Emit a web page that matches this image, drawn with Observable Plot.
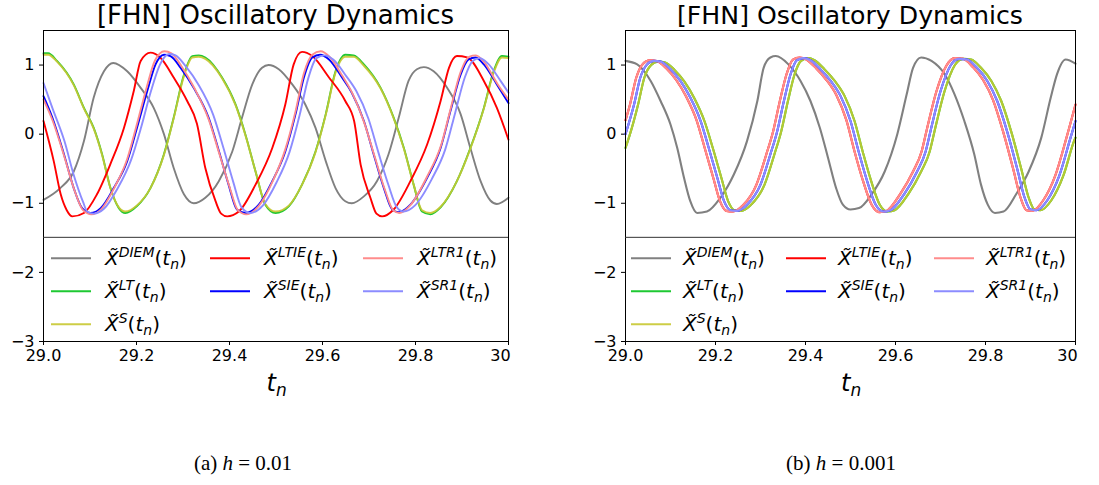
<!DOCTYPE html>
<html><head><meta charset="utf-8">
<script src="https://cdn.jsdelivr.net/npm/d3@7"></script>
<script src="https://cdn.jsdelivr.net/npm/@observablehq/plot@0.6"></script>
<style>
html,body{margin:0;padding:0;background:#fff;width:1099px;height:485px;overflow:hidden;font-family:"DejaVu Sans",sans-serif;}
.panel{position:absolute;top:0;height:410px;overflow:hidden;}
.cap{position:absolute;top:451px;font-family:"Liberation Serif","DejaVu Serif",serif;font-size:21px;color:#000;white-space:nowrap;transform:translateX(-50%);}
</style></head><body>
<div id="pa" class="panel" style="left:0px;width:515px"></div>
<div id="pb" class="panel" style="left:560px;width:522px"></div>
<div class="cap" style="left:243px">(a) <i>h</i> = 0.01</div>
<div class="cap" style="left:841px">(b) <i>h</i> = 0.001</div>
<script>
// ---------- axes ----------
const xTicks = [29.0, 29.2, 29.4, 29.6, 29.8, 30.0];
const xTickLabels = ["29.0", "29.2", "29.4", "29.6", "29.8", "30"];
const yTicks = [-3, -2, -1, 0, 1];
const titleText = "[FHN] Oscillatory Dynamics";

// ---------- panel (a): h = 0.01 ----------
const a_DIEM = [[29.000,-0.95],[29.036,-0.78],[29.065,-0.54],[29.087,-0.10],[29.108,0.53],[29.130,0.91],[29.150,1.03],[29.180,0.91],[29.209,0.67],[29.237,0.38],[29.259,0.00],[29.280,-0.49],[29.302,-0.87],[29.323,-1.00],[29.348,-0.92],[29.377,-0.68],[29.406,-0.25],[29.427,0.24],[29.449,0.72],[29.470,0.96],[29.484,1.00],[29.506,0.94],[29.535,0.72],[29.563,0.43],[29.585,0.09],[29.607,-0.39],[29.628,-0.78],[29.649,-0.97],[29.663,-1.00],[29.689,-0.90],[29.717,-0.68],[29.742,-0.29],[29.764,0.24],[29.785,0.77],[29.803,0.94],[29.818,0.97],[29.839,0.91],[29.868,0.67],[29.897,0.29],[29.918,-0.20],[29.940,-0.68],[29.961,-0.96],[29.975,-1.01],[30.000,-0.92]];
const a_LT = [[29.000,1.17],[29.010,1.17],[29.029,1.06],[29.065,0.72],[29.087,0.38],[29.108,0.09],[29.126,-0.29],[29.144,-0.78],[29.162,-1.07],[29.176,-1.14],[29.201,-1.04],[29.230,-0.78],[29.259,-0.29],[29.280,0.24],[29.302,0.86],[29.320,1.13],[29.334,1.14],[29.348,1.11],[29.384,0.82],[29.413,0.43],[29.434,0.00],[29.456,-0.54],[29.477,-1.02],[29.499,-1.14],[29.528,-1.04],[29.556,-0.73],[29.585,-0.25],[29.607,0.29],[29.628,0.91],[29.649,1.15],[29.667,1.14],[29.689,1.01],[29.725,0.67],[29.753,0.24],[29.775,-0.20],[29.796,-0.73],[29.814,-1.12],[29.832,-1.16],[29.854,-1.06],[29.889,-0.68],[29.918,-0.20],[29.947,0.38],[29.968,0.91],[29.986,1.13],[30.000,1.12]];
const a_S = [[29.000,1.15],[29.010,1.15],[29.029,1.05],[29.065,0.71],[29.087,0.37],[29.108,0.08],[29.126,-0.30],[29.144,-0.78],[29.162,-1.06],[29.176,-1.12],[29.201,-1.03],[29.230,-0.78],[29.259,-0.30],[29.280,0.23],[29.302,0.84],[29.320,1.11],[29.334,1.12],[29.348,1.09],[29.384,0.81],[29.413,0.42],[29.434,-0.01],[29.456,-0.54],[29.477,-1.01],[29.499,-1.12],[29.528,-1.03],[29.556,-0.73],[29.585,-0.26],[29.607,0.28],[29.628,0.89],[29.649,1.12],[29.667,1.12],[29.689,0.99],[29.725,0.66],[29.753,0.23],[29.775,-0.21],[29.796,-0.73],[29.814,-1.10],[29.832,-1.14],[29.854,-1.05],[29.889,-0.68],[29.918,-0.21],[29.947,0.37],[29.968,0.89],[29.986,1.11],[30.000,1.10]];
const a_LTIE = [[29.000,0.19],[29.022,-0.39],[29.037,-0.87],[29.050,-1.10],[29.062,-1.19],[29.087,-1.14],[29.115,-0.87],[29.144,-0.43],[29.173,0.09],[29.194,0.62],[29.209,1.06],[29.230,1.18],[29.251,1.11],[29.280,0.82],[29.309,0.48],[29.330,0.15],[29.348,-0.49],[29.370,-0.97],[29.382,-1.15],[29.395,-1.19],[29.420,-1.12],[29.456,-0.73],[29.492,-0.20],[29.520,0.43],[29.538,1.01],[29.556,1.19],[29.578,1.13],[29.614,0.82],[29.649,0.48],[29.668,0.19],[29.682,-0.44],[29.703,-0.92],[29.716,-1.15],[29.728,-1.19],[29.753,-1.09],[29.789,-0.68],[29.825,-0.15],[29.854,0.48],[29.872,0.96],[29.889,1.13],[29.911,1.11],[29.947,0.77],[29.975,0.38],[30.000,-0.08]];
const a_SIE = [[29.000,0.55],[29.019,0.24],[29.044,-0.29],[29.065,-0.78],[29.083,-1.07],[29.101,-1.14],[29.123,-1.07],[29.151,-0.78],[29.180,-0.39],[29.201,0.09],[29.223,0.62],[29.241,1.01],[29.259,1.15],[29.273,1.13],[29.295,0.96],[29.323,0.67],[29.355,0.24],[29.377,-0.24],[29.398,-0.73],[29.416,-1.09],[29.434,-1.14],[29.463,-1.02],[29.492,-0.68],[29.520,-0.25],[29.542,0.29],[29.560,0.82],[29.578,1.11],[29.595,1.15],[29.614,1.08],[29.642,0.82],[29.663,0.60],[29.689,0.19],[29.710,-0.29],[29.732,-0.78],[29.750,-1.09],[29.764,-1.13],[29.789,-1.02],[29.825,-0.63],[29.854,-0.20],[29.875,0.33],[29.897,0.86],[29.914,1.08],[29.929,1.11],[29.947,1.01],[29.975,0.72],[30.000,0.45]];
const a_LTR1 = [[29.000,0.50],[29.020,0.19],[29.045,-0.33],[29.066,-0.80],[29.085,-1.10],[29.103,-1.16],[29.125,-1.08],[29.152,-0.78],[29.180,-0.36],[29.200,0.12],[29.222,0.68],[29.240,1.07],[29.260,1.20],[29.275,1.17],[29.297,0.98],[29.325,0.66],[29.356,0.20],[29.378,-0.28],[29.400,-0.76],[29.418,-1.10],[29.436,-1.16],[29.464,-1.03],[29.493,-0.68],[29.520,-0.22],[29.542,0.33],[29.560,0.88],[29.578,1.15],[29.596,1.20],[29.615,1.12],[29.643,0.84],[29.665,0.58],[29.690,0.16],[29.712,-0.32],[29.734,-0.80],[29.752,-1.10],[29.766,-1.14],[29.790,-1.02],[29.826,-0.60],[29.855,-0.16],[29.876,0.38],[29.897,0.90],[29.915,1.12],[29.930,1.14],[29.948,1.04],[29.976,0.73],[30.000,0.50]];
const a_SR1 = [[29.000,0.74],[29.019,0.38],[29.045,-0.10],[29.065,-0.59],[29.085,-0.98],[29.094,-1.12],[29.108,-1.15],[29.130,-1.08],[29.158,-0.80],[29.188,-0.38],[29.210,0.10],[29.231,0.62],[29.250,1.00],[29.270,1.16],[29.284,1.14],[29.306,0.98],[29.333,0.72],[29.365,0.28],[29.387,-0.20],[29.408,-0.69],[29.426,-1.06],[29.444,-1.14],[29.472,-1.03],[29.501,-0.70],[29.529,-0.26],[29.551,0.28],[29.569,0.80],[29.587,1.10],[29.604,1.14],[29.623,1.08],[29.651,0.84],[29.673,0.62],[29.699,0.22],[29.720,-0.26],[29.742,-0.74],[29.760,-1.06],[29.774,-1.12],[29.799,-1.03],[29.835,-0.65],[29.864,-0.22],[29.885,0.30],[29.906,0.82],[29.923,1.06],[29.938,1.10],[29.956,1.02],[29.984,0.76],[30.000,0.60]];

// ---------- panel (b): h = 0.001 ----------
const b_DIEM = [[29.000,1.06],[29.026,1.01],[29.056,0.77],[29.078,0.48],[29.100,0.14],[29.115,-0.20],[29.130,-0.63],[29.144,-0.97],[29.159,-1.14],[29.181,-1.12],[29.211,-0.92],[29.241,-0.58],[29.270,-0.10],[29.293,0.48],[29.307,0.96],[29.322,1.11],[29.334,1.13],[29.362,1.01],[29.389,0.77],[29.411,0.48],[29.432,0.09],[29.450,-0.34],[29.468,-0.78],[29.483,-1.02],[29.500,-1.09],[29.519,-1.07],[29.547,-0.87],[29.576,-0.54],[29.604,0.00],[29.625,0.58],[29.639,0.96],[29.657,1.11],[29.680,1.06],[29.709,0.87],[29.731,0.58],[29.753,0.19],[29.775,-0.29],[29.790,-0.73],[29.805,-1.02],[29.821,-1.14],[29.840,-1.12],[29.868,-0.87],[29.896,-0.54],[29.924,-0.05],[29.945,0.53],[29.959,0.87],[29.978,1.08],[30.000,1.02]];
const b_LTIE = [[29.000,0.20],[29.010,0.43],[29.024,0.82],[29.039,1.02],[29.054,1.07],[29.069,1.06],[29.091,0.95],[29.113,0.78],[29.135,0.54],[29.158,0.20],[29.176,-0.20],[29.195,-0.63],[29.210,-0.97],[29.224,-1.11],[29.239,-1.12],[29.261,-1.03],[29.291,-0.73],[29.313,-0.29],[29.328,0.04],[29.343,0.48],[29.358,0.87],[29.372,1.08],[29.387,1.11],[29.402,1.08],[29.424,0.95],[29.447,0.78],[29.469,0.56],[29.491,0.20],[29.509,-0.25],[29.528,-0.68],[29.547,-1.02],[29.565,-1.13],[29.580,-1.11],[29.610,-0.87],[29.639,-0.54],[29.658,-0.25],[29.669,0.05],[29.691,0.62],[29.713,0.99],[29.732,1.10],[29.750,1.09],[29.772,0.97],[29.795,0.78],[29.817,0.49],[29.839,0.04],[29.861,-0.49],[29.878,-0.92],[29.891,-1.10],[29.904,-1.11],[29.928,-0.96],[29.955,-0.60],[29.980,-0.05],[30.000,0.43]];
const b_LTR1 = b_LTIE;
const b_SIE = [[29.000,0.00],[29.019,0.43],[29.033,0.82],[29.048,1.01],[29.063,1.06],[29.078,1.05],[29.100,0.94],[29.122,0.77],[29.144,0.53],[29.167,0.19],[29.185,-0.20],[29.204,-0.63],[29.219,-0.97],[29.233,-1.10],[29.248,-1.11],[29.270,-1.02],[29.300,-0.73],[29.322,-0.29],[29.337,0.04],[29.352,0.48],[29.367,0.87],[29.381,1.07],[29.396,1.10],[29.411,1.07],[29.433,0.94],[29.456,0.77],[29.478,0.55],[29.500,0.19],[29.518,-0.25],[29.537,-0.68],[29.556,-1.02],[29.574,-1.12],[29.589,-1.10],[29.619,-0.87],[29.648,-0.54],[29.667,-0.25],[29.678,0.05],[29.700,0.62],[29.722,0.99],[29.741,1.09],[29.759,1.08],[29.781,0.96],[29.804,0.77],[29.826,0.48],[29.848,0.04],[29.870,-0.49],[29.887,-0.92],[29.900,-1.09],[29.913,-1.10],[29.937,-0.96],[29.964,-0.60],[29.989,-0.05],[30.000,0.19]];
const b_SR1 = b_SIE;
const b_LT = [[29.000,-0.20],[29.010,0.00],[29.028,0.43],[29.042,0.82],[29.057,1.00],[29.072,1.05],[29.087,1.04],[29.109,0.93],[29.131,0.76],[29.153,0.52],[29.176,0.18],[29.194,-0.20],[29.213,-0.63],[29.228,-0.97],[29.242,-1.10],[29.257,-1.11],[29.279,-1.02],[29.309,-0.73],[29.331,-0.29],[29.346,0.04],[29.361,0.48],[29.376,0.87],[29.390,1.06],[29.405,1.10],[29.420,1.07],[29.442,0.94],[29.465,0.77],[29.487,0.55],[29.509,0.19],[29.527,-0.25],[29.546,-0.68],[29.565,-1.02],[29.583,-1.12],[29.598,-1.10],[29.628,-0.87],[29.657,-0.54],[29.676,-0.25],[29.687,0.05],[29.709,0.62],[29.731,0.99],[29.750,1.09],[29.768,1.08],[29.790,0.96],[29.813,0.77],[29.835,0.48],[29.857,0.04],[29.879,-0.49],[29.896,-0.92],[29.909,-1.09],[29.922,-1.10],[29.946,-0.96],[29.973,-0.60],[29.998,-0.08],[30.000,-0.05]];
const b_S = b_LT;

// ---------- series styling & legend ----------
const seriesNames = ["DIEM","LT","S","LTIE","SIE","LTR1","SR1"];
const seriesColors = {DIEM:"#808080", LT:"#1ec832", S:"#c8c832", LTIE:"#ff0000", SIE:"#0000ff", LTR1:"#ff8c8c", SR1:"#8c8cff"};
const seriesOpacity = {DIEM:1, LT:1, S:0.9, LTIE:1, SIE:1, LTR1:1, SR1:1};
const legendColumns = [["DIEM","LT","S"],["LTIE","SIE"],["LTR1","SR1"]];

function drawPanel(el, data, opt) {
  const fw = opt.frameW, ml = opt.ml, mt = 30, fh = 311;
  const W = ml + fw + opt.mr, H = 410;
  const plot = Plot.plot({
    width: W, height: H,
    marginLeft: ml, marginRight: opt.mr, marginTop: mt, marginBottom: H - mt - fh,
    style: {fontFamily: "DejaVu Sans", fontSize: "16px", color: "#000", background: "#fff", overflow: "visible"},
    x: {domain: [29, 30], ticks: xTicks, tickFormat: (d, i) => xTickLabels[i], tickSize: 4, tickPadding: 4, label: null},
    y: {domain: [-3, 1.5], ticks: yTicks, tickFormat: d3.format("d"), tickSize: 4, tickPadding: 5, label: null},
    marks: [
      ...seriesNames.map(n => Plot.line(data[n], {x: d => d[0], y: d => d[1], stroke: seriesColors[n], strokeOpacity: seriesOpacity[n], strokeWidth: opt.lw, curve: "monotone-x"})),
      Plot.frame({stroke: "#000", strokeWidth: 1})
    ]
  });
  el.appendChild(plot);
  const svg = d3.select(plot);
  // last x tick label ("30") sits left of its tick, as in the reference
  svg.selectAll("text").filter(function() { return this.textContent === "30"; }).attr("dx", -8);
  const y = plot.scale("y");
  const cx = ml + fw / 2;
  // title
  svg.append("text").attr("x", cx).attr("y", 24).attr("text-anchor", "middle")
    .attr("font-family", "DejaVu Sans").attr("font-size", opt.titleSize).attr("fill", "#000").text(titleText);
  // x label t_n
  const xl = svg.append("text").attr("x", cx - 9).attr("y", 391).attr("text-anchor", "start").attr("font-family", "DejaVu Sans")
    .attr("font-size", 24).attr("font-style", "italic").attr("fill", "#000");
  xl.append("tspan").text("t");
  xl.append("tspan").attr("font-size", 17).attr("dy", 5).text("n");
  // legend frame line
  const legTop = y.apply(-1.5);
  svg.append("line").attr("x1", ml).attr("x2", ml + fw).attr("y1", legTop).attr("y2", legTop)
    .attr("stroke", "#333").attr("stroke-width", 1);
  const rows = [legTop + 21, legTop + 54, legTop + 87];
  legendColumns.forEach((col, ci) => {
    col.forEach((n, ri) => {
      const x0 = ml + opt.cols[ci], yy = rows[ri];
      svg.append("line").attr("x1", x0).attr("x2", x0 + 40).attr("y1", yy).attr("y2", yy)
        .attr("stroke", seriesColors[n]).attr("stroke-opacity", seriesOpacity[n]).attr("stroke-width", 2);
      const t = svg.append("text").attr("x", x0 + opt.txt).attr("y", yy + 7).attr("text-anchor", "start")
        .attr("font-family", "DejaVu Sans").attr("font-size", 20).attr("fill", "#000");
      t.append("tspan").attr("font-style", "italic").text("X\u0303");
      t.append("tspan").attr("font-style", "italic").attr("font-size", 14).attr("dy", -8).text(n);
      t.append("tspan").attr("dy", 8).text("(");
      t.append("tspan").attr("font-style", "italic").text("t");
      t.append("tspan").attr("font-style", "italic").attr("font-size", 14).attr("dy", 4).text("n");
      t.append("tspan").attr("dy", -4).text(")");
    });
  });
}

drawPanel(document.getElementById("pa"),
  {DIEM: a_DIEM, LT: a_LT, S: a_S, LTIE: a_LTIE, SIE: a_SIE, LTR1: a_LTR1, SR1: a_SR1},
  {ml: 43, frameW: 465, mr: 7, titleSize: 26, cols: [8, 167, 320], txt: 54, lw: 1.9});
drawPanel(document.getElementById("pb"),
  {DIEM: b_DIEM, LT: b_LT, S: b_S, LTIE: b_LTIE, SIE: b_SIE, LTR1: b_LTR1, SR1: b_SR1},
  {ml: 65, frameW: 450, mr: 7, titleSize: 25.2, cols: [6, 161, 309], txt: 52, lw: 2.1});
</script>
</body></html>
